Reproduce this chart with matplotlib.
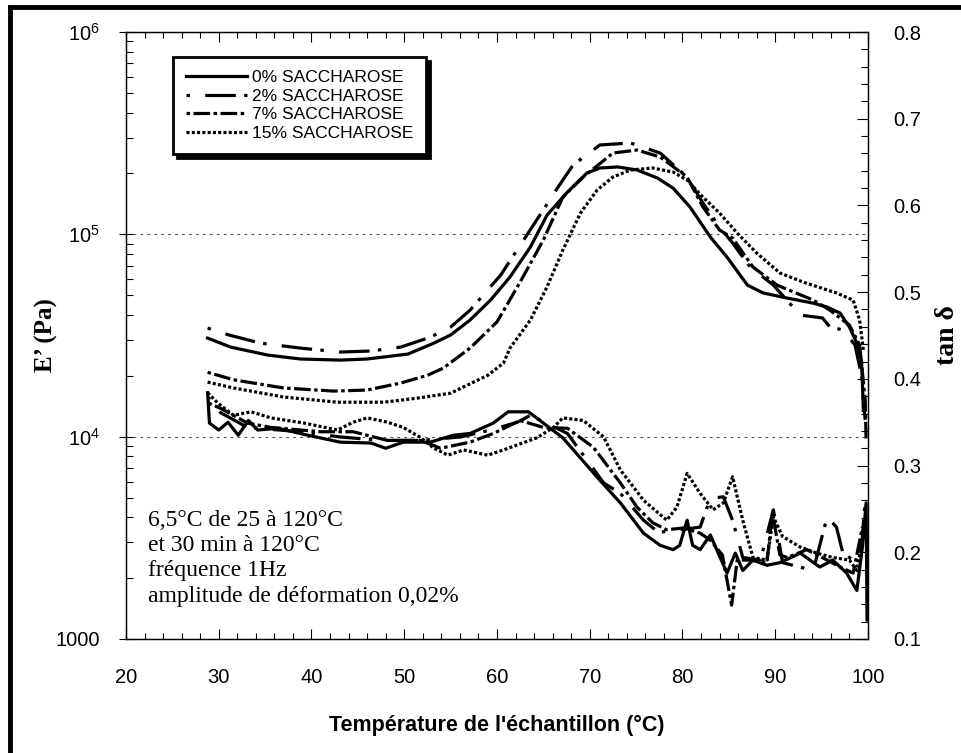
import numpy as np
import matplotlib
matplotlib.use("Agg")
from matplotlib import pyplot as plt
from matplotlib.lines import Line2D
from matplotlib.ticker import FixedLocator, FuncFormatter, MultipleLocator

plt.rcParams['font.family'] = ['Liberation Sans', 'DejaVu Sans']
plt.rcParams['lines.scale_dashes'] = False

# ---- data: E' (left axis, Pa) ----
T_e0 = [28.8, 31.3, 35.3, 38.8, 43.1, 46.0, 50.4, 53.2, 55.0, 57.1, 59.3, 61.4, 63.6, 65.4,
        67.6, 69.7, 71.1, 73.0, 75.1, 77.3, 79.0, 80.8, 83.0, 84.8, 87.0, 88.7, 91.3, 94.1,
        95.6, 97.0, 98.0, 98.8, 99.3, 99.4, 99.5]
E_0 = [30700, 27700, 25300, 24200, 23900, 24200, 25600, 29000, 31800, 37700, 47300, 61500,
       86500, 124500, 161800, 201000, 212700, 215300, 208000, 189800, 169000, 136600, 97000,
       77200, 56100, 51300, 48400, 45700, 43700, 40800, 34800, 29000, 23900, 18400, 13500]

T_e2 = [28.8, 31.1, 34.5, 38.8, 43.1, 46.4, 49.6, 52.8, 55.0, 57.1, 60.4, 64.3, 66.5, 68.2,
        71.1, 74.4, 77.6, 79.4, 80.5, 82.2, 84.0, 85.4, 87.3, 89.8, 92.7, 95.1, 95.9, 97.3,
        98.6, 99.3, 99.7]
E_2 = [34400, 31800, 29000, 27400, 26200, 26500, 27700, 31000, 34800, 42200, 62900, 118000,
       169000, 220000, 276500, 282800, 252200, 212700, 192000, 142900, 108700, 90600, 68900,
       56100, 39900, 38600, 34800, 33700, 28400, 20100, 12100]

T_e7 = [28.8, 31.6, 37.0, 42.4, 46.0, 49.6, 52.5, 54.2, 57.1, 60.0, 62.5, 65.0, 67.1, 69.3,
        72.5, 75.1, 77.6, 80.5, 82.2, 84.0, 85.4, 87.6, 90.2, 94.1, 95.9, 98.0, 99.1, 99.7, 99.8]
E_7 = [20800, 19100, 17400, 16800, 17000, 18400, 20100, 21800, 27400, 36900, 58100, 93800,
       152800, 192000, 252200, 261000, 241000, 192000, 136600, 105000, 95900, 68900, 56100,
       47300, 42200, 35600, 28400, 15200, 9600]

T_e15 = [28.8, 31.6, 37.0, 42.8, 47.8, 51.4, 55.0, 59.0, 60.7, 61.4, 63.6, 65.4, 67.1, 69.0,
         70.8, 72.5, 74.4, 76.8, 79.0, 80.5, 82.2, 84.0, 85.9, 88.0, 90.5, 93.0, 96.6, 98.4,
         99.1, 99.5]
E_15 = [18600, 17400, 15700, 14800, 14800, 15500, 16400, 20100, 23100, 27400, 37700, 55000,
        83600, 127400, 165600, 192000, 208000, 212700, 203000, 185400, 152800, 127400, 101400,
        80900, 64400, 58100, 51300, 47300, 37700, 26800]

# ---- data: tan delta (right axis) ----
T_t0 = [28.8, 29.0, 30.0, 31.0, 32.1, 33.2, 34.2, 36.4, 39.6, 43.1, 46.4, 48.0, 49.9, 52.8,
        55.3, 57.1, 59.6, 61.2, 63.4, 67.1, 71.1, 73.3, 75.8, 77.6, 79.0, 79.7, 80.5, 81.1,
        81.9, 83.0, 84.8, 85.7, 86.5, 87.6, 89.1, 90.5, 92.7, 94.8, 96.2, 97.7, 98.8, 99.4,
        99.8, 99.9]
tan_0 = [0.384, 0.349, 0.341, 0.350, 0.335, 0.352, 0.341, 0.343, 0.335, 0.327, 0.326, 0.320,
         0.327, 0.327, 0.335, 0.337, 0.349, 0.362, 0.362, 0.332, 0.283, 0.257, 0.222, 0.208,
         0.203, 0.208, 0.237, 0.208, 0.203, 0.220, 0.176, 0.199, 0.179, 0.191, 0.185, 0.188,
         0.199, 0.183, 0.191, 0.176, 0.156, 0.206, 0.257, 0.122]

T_t2 = [28.8, 30.2, 33.1, 38.8, 43.1, 47.5, 51.8, 56.1, 59.3, 62.2, 63.6, 67.6, 71.5, 73.3,
        75.8, 77.4, 79.7, 81.9, 83.0, 84.4, 85.4, 86.5, 88.4, 89.8, 90.8, 94.1, 95.6, 96.6,
        97.3, 98.4, 99.3, 99.7]
tan_2 = [0.379, 0.361, 0.344, 0.339, 0.333, 0.329, 0.329, 0.333, 0.341, 0.350, 0.358, 0.337,
         0.280, 0.268, 0.237, 0.223, 0.226, 0.229, 0.262, 0.264, 0.237, 0.194, 0.191, 0.249,
         0.188, 0.179, 0.241, 0.229, 0.199, 0.191, 0.206, 0.260]

T_t7 = [28.9, 30.2, 33.1, 35.6, 41.0, 44.5, 48.2, 51.8, 53.9, 57.1, 59.6, 62.5, 65.0, 67.6,
        70.4, 73.3, 75.1, 76.8, 78.3, 80.1, 81.9, 83.0, 84.3, 85.3, 85.9, 87.3, 89.1, 89.7,
        90.5, 91.3, 93.4, 95.6, 97.0, 98.4, 99.4]
tan_7 = [0.372, 0.366, 0.349, 0.344, 0.339, 0.339, 0.329, 0.329, 0.320, 0.327, 0.337, 0.352,
         0.344, 0.343, 0.321, 0.280, 0.252, 0.234, 0.226, 0.228, 0.222, 0.214, 0.197, 0.139,
         0.191, 0.191, 0.188, 0.245, 0.197, 0.194, 0.203, 0.191, 0.183, 0.176, 0.229]

T_t15 = [28.8, 29.9, 31.6, 33.5, 35.6, 39.2, 42.8, 44.5, 46.0, 48.2, 49.9, 51.8, 53.2, 54.7,
         56.4, 59.0, 60.7, 64.3, 66.1, 67.1, 69.3, 71.5, 73.3, 75.8, 78.3, 79.4, 80.5, 81.9,
         83.3, 84.4, 85.4, 86.5, 87.6, 89.1, 89.8, 90.8, 92.7, 94.5, 96.2, 98.0, 98.8, 99.4]
tan_15 = [0.384, 0.372, 0.358, 0.362, 0.355, 0.349, 0.341, 0.350, 0.355, 0.350, 0.344, 0.332,
          0.320, 0.312, 0.318, 0.312, 0.318, 0.332, 0.344, 0.355, 0.352, 0.333, 0.295, 0.260,
          0.237, 0.252, 0.291, 0.268, 0.249, 0.257, 0.287, 0.237, 0.194, 0.191, 0.241, 0.218,
          0.206, 0.199, 0.194, 0.191, 0.179, 0.214]

labels = ['0% SACCHAROSE', '2% SACCHAROSE', '7% SACCHAROSE', '15% SACCHAROSE']
styles = ['-', (0, (2.5, 11, 22, 6)), (0, (2.5, 2.5, 12, 2.5)), (0, (2.2, 1.6))]

note = ("6,5°C de 25 à 120°C\net 30 min à 120°C\nfréquence 1Hz\n"
        "amplitude de déformation 0,02%")

fig = plt.figure(figsize=(9.61, 7.53), dpi=100)
ax = fig.add_axes([0.1311, 0.1514, 0.7721, 0.8061])
ax2 = ax.twinx()

E_sets = [(T_e0, E_0), (T_e2, E_2), (T_e7, E_7), (T_e15, E_15)]
t_sets = [(T_t0, tan_0), (T_t2, tan_2), (T_t7, tan_7), (T_t15, tan_15)]

handles = []
for (tx, ey), (tt, ty), ls, lab in zip(E_sets, t_sets, styles, labels):
    h, = ax.plot(tx, ey, color='black', lw=2.3, linestyle=ls, label=lab)
    ax2.plot(tt, ty, color='black', lw=2.3, linestyle=ls)
    handles.append(h)

ax.set_yscale('log')
ax.set_ylim(1000, 1e6)
ax.set_xlim(20, 100)
ax2.set_ylim(0.1, 0.8)

ax.xaxis.set_major_locator(MultipleLocator(10))
ax.xaxis.set_minor_locator(MultipleLocator(2))
ax.yaxis.set_major_locator(FixedLocator([1e3, 1e4, 1e5, 1e6]))


def fmt_log(v, pos):
    if v < 5000:
        return '1000'
    return r'$\mathregular{10^{%d}}$' % int(round(np.log10(v)))


ax.yaxis.set_major_formatter(FuncFormatter(fmt_log))
ax2.yaxis.set_major_locator(MultipleLocator(0.1))
ax2.yaxis.set_minor_locator(MultipleLocator(0.02))

ax.tick_params(axis='x', which='both', direction='in', top=True, labelsize=14.5, pad=21)
ax.tick_params(axis='x', which='major', length=7, width=0.8)
ax.tick_params(axis='x', which='minor', length=4, width=0.8)
ax.tick_params(axis='y', which='major', direction='inout', length=10, width=0.8,
               labelsize=14.5, pad=14, right=False)
ax.tick_params(axis='y', which='minor', direction='in', length=5, width=0.8, right=False)
ax2.tick_params(axis='y', which='major', direction='in', length=8, width=0.8,
                labelsize=14.5, pad=18)
ax2.tick_params(axis='y', which='minor', direction='in', length=5, width=0.8)

ax.grid(True, which='major', axis='y', linestyle=(0, (2, 3)), color='#555555', lw=0.8)

for a in (ax, ax2):
    for s in a.spines.values():
        s.set_linewidth(0.9)

ax.set_xlabel("Température de l'échantillon (°C)", fontsize=15.5, fontweight='bold',
              labelpad=20)
ax.set_ylabel('E’ (Pa)', fontsize=18, fontweight='bold', family='Liberation Serif', labelpad=-2)
ax2.set_ylabel('tan δ', fontsize=20, fontweight='bold', family='Liberation Serif', labelpad=10)

leg = ax.legend(handles=handles, loc='upper left', bbox_to_anchor=(0.063, 0.959),
                borderaxespad=0, fontsize=12.5, handlelength=3.5, handletextpad=0.3,
                labelspacing=0.2, fancybox=False, edgecolor='black', framealpha=1,
                shadow={'color': 'black', 'alpha': 1, 'ox': 3, 'oy': -3},
                borderpad=0.75)
leg.get_frame().set_linewidth(2)
leg.set_zorder(5)

ax.text(0.03, 0.213, note, transform=ax.transAxes, fontsize=17, va='top', ha='left',
        family='Liberation Serif', linespacing=1.27)

# outer frame (top and left edges)
fig.add_artist(Line2D([0.0105, 1.0], [0.9905, 0.9905], transform=fig.transFigure,
                      color='black', lw=3.5))
fig.add_artist(Line2D([0.0105, 0.0105], [0.0, 0.9905], transform=fig.transFigure,
                      color='black', lw=3.5))

fig.savefig('out.png', dpi=100)
